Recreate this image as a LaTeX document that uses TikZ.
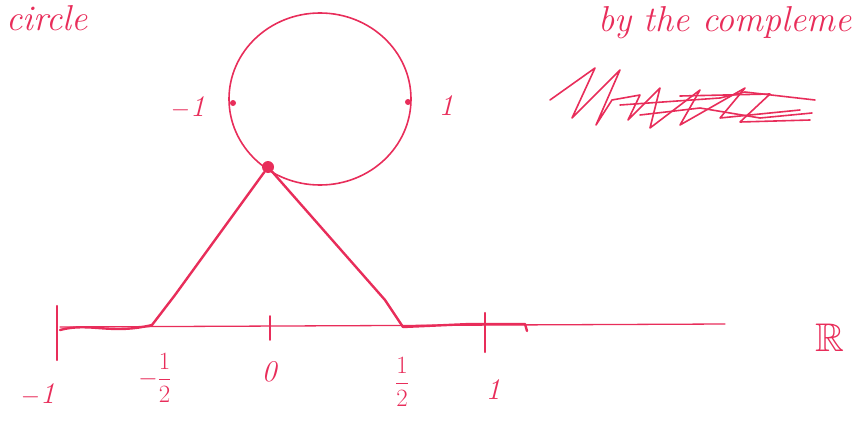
\documentclass[tikz,border=0pt]{standalone}
\usepackage{amssymb}
\definecolor{ink}{RGB}{232,45,90}
\begin{document}
\begin{tikzpicture}[x=1pt,y=-1pt,
  pen/.style={draw=ink,line width=1.6pt,line cap=round,line join=round},
  thick pen/.style={pen,line width=2.4pt},
  lbl/.style={text=ink,font=\fontsize{30}{30}\selectfont\itshape,inner sep=0pt},
  top/.style={lbl,font=\fontsize{36}{36}\selectfont\itshape},
  frac/.style={lbl,font=\fontsize{26}{26}\selectfont},
  dot/.style={circle,fill=ink,inner sep=0pt,minimum size=7pt}]
\useasboundingbox (0,0) rectangle (859,439);
% top handwritten text
\node[top,anchor=north west] (t1) at (6,5) {circle};
\node[top,anchor=north east] (t2) at (852,6) {by the compleme};
% circle
\coordinate (c) at (320,99);
\draw[pen] (c) ellipse [x radius=91, y radius=86];
\node[dot,minimum size=6pt] (m1) at (233,103) {};
\node[dot,minimum size=6pt] (p1) at (408,102) {};
\node[dot,minimum size=12pt] (s) at (268,167) {};
\node[lbl] (lm1) at (188,108) {$-$1};
\node[lbl] (lp1) at (446,106) {1};
% scribble (crossed out)
\draw[pen] (550,100) -- (595,68) -- (572,118) -- (620,70) -- (596,125) -- (612,100) -- (640,95) -- (628,120) -- (660,88) -- (650,128) -- (700,90) -- (680,125) -- (745,88) -- (720,118) -- (800,110);
\draw[pen] (620,105) -- (720,98) -- (745,92) -- (815,100);
\draw[pen] (640,115) -- (700,108) -- (760,118) -- (812,113);
\draw[pen] (680,96) -- (770,94) -- (740,122) -- (810,120);
% real line
\coordinate (ax0) at (60,327);
\coordinate (ax1) at (725,324);
\draw[pen,line width=1.3pt] (ax0) -- (ax1);
\draw[thick pen] (57,306) -- (57,360);
\draw[thick pen] (60,330) .. controls (90,322) and (110,335) .. (152,325);
\draw[pen] (270,316) -- (270,340);
\draw[thick pen] (485,313) -- (485,352);
\draw[thick pen] (403,327) -- (470,324) -- (525,324) -- (527,331);
\coordinate (mh) at (152,325);
\coordinate (ph) at (403,327);
\draw[thick pen] (s) -- (175,295) -- (mh);
\draw[thick pen] (s) -- (385,300) -- (ph);
% labels on the line
\node[lbl] (a1) at (38,395) {$-$1};
\node[frac] (a2) at (155,378) {$\displaystyle -\frac{1}{2}$};
\node[lbl] (a3) at (269,372) {0};
\node[frac] (a4) at (402,382) {$\displaystyle \frac{1}{2}$};
\node[lbl] (a5) at (493,390) {1};
\node[text=ink,font=\fontsize{40}{40}\selectfont] (R) at (830,338) {$\mathbb{R}$};
\end{tikzpicture}
\end{document}
